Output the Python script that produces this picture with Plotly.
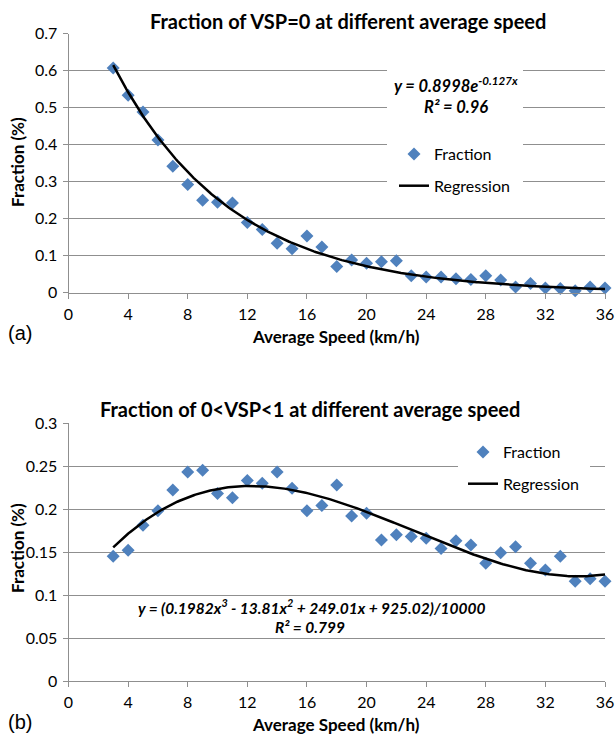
import numpy as np
import plotly.graph_objects as go

# ---------------- data ----------------
speed = [3, 4, 5, 6, 7, 8, 9, 10, 11, 12, 13, 14, 15, 16, 17, 18, 19, 20,
         21, 22, 23, 24, 25, 26, 27, 28, 29, 30, 31, 32, 33, 34, 35, 36]

frac_vsp0 = [0.607, 0.533, 0.488, 0.412, 0.341, 0.292, 0.249, 0.244, 0.242,
             0.189, 0.170, 0.133, 0.118, 0.153, 0.123, 0.070, 0.088, 0.079,
             0.083, 0.086, 0.045, 0.042, 0.042, 0.037, 0.035, 0.045, 0.034,
             0.015, 0.024, 0.012, 0.011, 0.005, 0.015, 0.012]

frac_vsp01 = [0.145, 0.152, 0.181, 0.198, 0.222, 0.243, 0.245, 0.218, 0.213,
              0.233, 0.230, 0.243, 0.224, 0.198, 0.204, 0.228, 0.192, 0.195,
              0.164, 0.170, 0.168, 0.166, 0.154, 0.163, 0.158, 0.137, 0.149,
              0.156, 0.137, 0.129, 0.145, 0.116, 0.119, 0.116]

# regression coefficients shown on the chart
exp_a, exp_b = 0.8998, -0.127
poly_coef = [0.1982, -13.81, 249.01, 925.02]   # /10000
poly_div = 10000.0

x_ticks = [0, 4, 8, 12, 16, 20, 24, 28, 32, 36]

reg_x = np.linspace(speed[0], speed[-1], 300)
reg_top = exp_a * np.exp(exp_b * reg_x)
reg_bot = np.polyval(poly_coef, reg_x) / poly_div

# ---------------- figure ----------------
W, H = 615, 736
BLUE = "#4F81BD"
GRID = "#8F8F8F"
FONT = "Lato"

def px(x):
    return x / W

def py(y):
    return 1 - y / H

fig = go.Figure()

fig.add_trace(go.Scatter(x=speed, y=frac_vsp0, mode="markers", name="Fraction",
                         marker=dict(symbol="diamond", size=10, color=BLUE),
                         cliponaxis=False, xaxis="x", yaxis="y",
                         legend="legend", legendgroup="a1"))
fig.add_trace(go.Scatter(x=reg_x, y=reg_top, mode="lines", name="Regression",
                         line=dict(color="black", width=2.5),
                         xaxis="x", yaxis="y", legend="legend", legendgroup="a2"))
fig.add_trace(go.Scatter(x=speed, y=frac_vsp01, mode="markers", name="Fraction",
                         marker=dict(symbol="diamond", size=10, color=BLUE),
                         cliponaxis=False, xaxis="x2", yaxis="y2",
                         legend="legend2", legendgroup="b1"))
fig.add_trace(go.Scatter(x=reg_x, y=reg_bot, mode="lines", name="Regression",
                         line=dict(color="black", width=2.5),
                         xaxis="x2", yaxis="y2", legend="legend2", legendgroup="b2"))

xdom = [px(68.5), px(605)]
axis_common = dict(showline=True, linecolor=GRID, linewidth=1, ticks="outside",
                   ticklen=5, tickcolor=GRID, ticklabelstandoff=2,
                   tickfont=dict(family=FONT, size=16, color="black"),
                   zeroline=False, automargin=False)

fig.update_layout(
    width=W, height=H,
    margin=dict(l=0, r=0, t=0, b=0, autoexpand=False),
    paper_bgcolor="white", plot_bgcolor="white",
    font=dict(family=FONT, color="black"),
    xaxis=dict(domain=xdom, range=[0, 36], tickvals=x_ticks, showgrid=False,
               anchor="y", **axis_common),
    yaxis=dict(domain=[py(292.5), py(33.5)], range=[0, 0.7], dtick=0.1,
               showgrid=True, gridcolor=GRID, gridwidth=1, anchor="x", **axis_common),
    xaxis2=dict(domain=xdom, range=[0, 36], tickvals=x_ticks, showgrid=False,
                anchor="y2", **axis_common),
    yaxis2=dict(domain=[py(681), py(423)], range=[0, 0.3], dtick=0.05,
                showgrid=True, gridcolor=GRID, gridwidth=1, anchor="x2", **axis_common),
    legend=dict(x=px(394), y=py(137), xanchor="left", yanchor="top",
                bgcolor="white", borderwidth=0, tracegroupgap=8,
                font=dict(family=FONT, size=16, color="black")),
    legend2=dict(x=px(463), y=py(435), xanchor="left", yanchor="top",
                 bgcolor="white", borderwidth=0, tracegroupgap=8,
                 font=dict(family=FONT, size=16, color="black")),
)

# white boxes hiding the gridlines behind the labels
fig.add_shape(type="rect", xref="paper", yref="paper", x0=px(387), x1=px(523),
              y0=py(195), y1=py(64), fillcolor="white", line=dict(width=0), layer="above")
fig.add_shape(type="rect", xref="paper", yref="paper", x0=px(458), x1=px(590),
              y0=py(496), y1=py(436), fillcolor="white", line=dict(width=0), layer="above")

def ann(text, x, y, size, angle=0, family=FONT):
    fig.add_annotation(text=text, x=px(x), y=py(y), xref="paper", yref="paper",
                       xanchor="center", yanchor="middle", showarrow=False,
                       textangle=angle, font=dict(family=family, size=size, color="black"))

ann("<b>Fraction of VSP=0 at different average speed</b>", 348, 21, 20)
ann("<b>Fraction of 0&lt;VSP&lt;1 at different average speed</b>", 310, 409, 20)
ann("<b>Fraction (%)</b>", 17, 162, 17, angle=-90)
ann("<b>Fraction (%)</b>", 17, 548, 17, angle=-90)
ann("<b>Average Speed (km/h)</b>", 336, 336, 17)
ann("<b>Average Speed (km/h)</b>", 336, 724, 17)
ann("(a)", 20, 333, 20, family="Liberation Sans")
ann("(b)", 20, 722, 20, family="Liberation Sans")
ann("<b><i>y = 0.8998e<sup>-0.127x</sup></i></b>", 456, 85, 16.5)
ann("<b><i>R² = 0.96</i></b>", 455.5, 107, 16.5)
ann("<b><i>y = (0.1982x<sup>3</sup> - 13.81x<sup>2</sup> + 249.01x + 925.02)/10000</i></b>",
    311, 606, 15.5)
ann("<b><i>R² = 0.799</i></b>", 310, 627, 15.5)

fig.write_html(
    "out.html",
    config={"displayModeBar": False},
    post_script="document.body.style.margin='0';document.body.style.padding='0';"
                "document.body.style.overflow='hidden';",
)
